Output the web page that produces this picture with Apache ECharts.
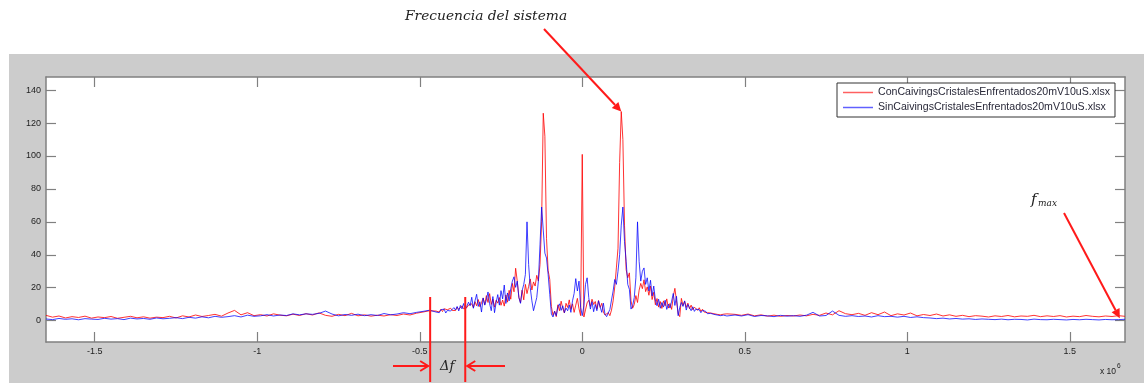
<!DOCTYPE html>
<html><head><meta charset="utf-8">
<script src="https://cdn.jsdelivr.net/npm/echarts@6/dist/echarts.min.js"></script>
<style>html,body{margin:0;padding:0;background:#fff}#c{width:1144px;height:383px}</style>
</head><body><div id="c"></div>
<script>
// ---------- DATA ----------
const seriesNames = ['ConCaivingsCristalesEnfrentados20mV10uS.xlsx', 'SinCaivingsCristalesEnfrentados20mV10uS.xlsx'];
// frequency grids (x 10^6): start, step, count for each segment
const leftGrid = {start: -1.65, step: 0.02, count: 60};
const centerGrid = {start: -0.45, step: 0.005, count: 181};
const rightGrid = {start: 0.47, step: 0.02, count: 61};

const redLeft = [3.2,2.1,2.8,1.6,2.4,1.9,2.7,1.5,2.2,1.8,
 2.5,1.4,2.0,2.6,1.7,2.3,1.5,2.1,1.8,2.6,
 1.6,2.9,2.2,3.4,2.5,3.1,3.8,2.7,4.6,6.2,
 3.5,4.8,3.0,3.6,2.8,4.1,3.3,2.9,3.9,3.1,
 4.2,3.4,4.7,3.2,2.6,3.8,3.0,4.4,2.9,3.5,
 2.7,3.3,2.8,3.6,3.1,4.0,3.4,4.5,5.2,6.0];
const redCenter = [5.8,6.4,5.2,6.9,5.5,7.2,6.0,6.6,5.4,7.5,6.2,
 7.0,6.1,8.2,6.8,7.6,9.0,7.2,8.4,7.9,9.5,
 8.6,10.2,7.9,11.5,9.0,12.8,8.4,10.9,13.6,9.7,
 15.2,11.0,16.4,9.8,13.1,8.2,12.4,10.6,14.0,9.3,
 12.5,8.8,15.6,11.2,18.4,13.0,22.6,17.5,31.8,24.0,
 14.2,10.8,18.5,12.6,22.0,16.4,20.8,25.3,18.6,23.5,
 21.0,27.5,24.0,34.0,60.0,126.0,112.0,50.0,30.5,25.0,
 8.5,3.2,5.8,2.4,9.6,6.0,11.8,7.4,4.6,10.5,
 8.0,12.6,6.8,10.2,5.0,9.4,13.5,7.2,3.0,
 101.0,
 2.2,6.5,10.8,12.4,8.6,13.0,9.8,11.6,7.0,
 12.2,8.0,10.5,5.2,3.4,2.6,4.8,3.0,6.4,12.0,
 20.5,32.0,44.0,96.0,127.0,110.0,58.0,31.0,26.0,29.0,
 12.0,7.5,9.8,15.2,11.0,18.5,22.6,19.4,24.8,17.6,20.5,
 15.4,21.0,12.8,17.2,9.6,13.4,8.2,11.6,7.4,12.0,
 9.0,13.2,7.6,10.4,6.8,14.5,19.6,12.0,4.2,2.4,
 13.5,9.2,11.8,8.0,10.6,7.2,9.4,6.6,8.2,7.0,
 6.2,7.8,5.6,6.9,5.2,6.4,4.8,5.9,4.6,5.4,
 4.2,5.0,3.8,4.6,3.5,4.4,3.9,3.2,4.1,3.6];
const redRight = [3.8,3.2,4.0,2.9,3.5,2.7,3.3,2.6,3.1,2.8,
 3.4,2.9,3.8,3.2,4.6,3.5,6.0,4.2,3.6,4.4,
 3.2,4.8,3.6,5.2,3.0,4.1,3.4,4.6,2.9,3.7,
 3.1,4.0,2.8,3.5,2.6,3.2,2.4,3.0,2.7,2.2,
 2.9,2.5,3.1,2.3,2.8,2.6,3.2,2.4,2.9,2.5,
 3.0,2.2,2.7,2.4,3.1,2.6,2.3,2.8,2.5,3.0,2.6];

const blueLeft = [1.0,0.6,1.3,0.8,1.1,0.5,1.2,0.9,0.7,1.4,
 0.9,1.2,0.6,1.5,1.0,1.3,0.8,1.6,1.1,1.4,
 1.8,1.2,2.0,1.5,2.3,1.7,2.6,2.0,2.4,3.0,
 2.2,3.3,2.6,2.9,3.6,2.8,3.4,3.1,4.1,3.5,
 4.1,3.8,4.4,5.8,4.0,2.9,3.7,3.2,3.9,3.0,
 3.6,3.1,4.3,3.5,4.0,4.8,4.2,5.0,5.6,6.3];
const blueCenter = [5.2,6.0,4.8,6.6,5.5,7.0,4.6,6.2,7.4,5.8,6.8,
 7.9,6.4,8.6,5.9,9.2,7.1,10.4,6.8,8.8,11.2,
 9.0,14.2,7.5,12.0,16.0,8.6,11.4,5.2,13.8,9.4,
 12.6,17.4,10.2,6.0,14.6,4.8,11.0,15.8,9.4,18.2,
 13.2,21.6,10.4,16.8,12.0,19.4,24.0,26.6,20.2,24.0,
 14.0,10.5,18.2,22.0,28.0,60.0,34.0,20.0,12.0,6.0,
 5.0,14.0,24.0,46.0,69.0,55.0,41.0,38.0,28.0,16.0,
 4.0,2.2,5.6,3.0,8.4,10.2,6.2,9.0,4.8,7.6,
 6.0,9.5,5.0,12.0,16.5,25.5,18.0,24.0,8.0,
 3.0,
 9.0,22.0,26.0,14.0,7.0,11.5,5.4,9.8,6.0,
 12.0,8.4,5.0,10.6,3.8,2.4,4.6,6.8,12.5,18.0,
 25.0,22.0,30.0,40.0,58.0,69.0,48.0,36.0,22.0,19.0,
 7.0,9.0,14.0,26.0,60.0,36.0,24.0,30.0,32.0,22.0,26.0,
 18.0,24.5,15.0,21.0,12.5,9.0,13.0,7.5,11.0,8.2,
 12.4,6.8,10.0,7.6,11.8,16.5,9.2,14.8,3.0,8.0,
 11.0,8.6,12.0,6.4,9.8,7.8,6.0,8.4,5.6,7.0,
 5.8,6.6,4.8,6.2,5.0,5.6,4.2,5.2,4.4,4.9,
 3.8,4.5,3.4,4.2,3.0,3.9,3.3,4.0,2.8,3.5];
const blueRight = [3.4,2.8,3.6,2.5,3.1,2.9,2.4,3.2,2.7,3.0,
 2.6,3.3,5.0,2.8,3.1,5.8,3.2,2.6,3.0,2.5,
 2.8,2.2,3.0,2.4,2.6,2.1,2.6,1.9,2.3,1.8,
 1.6,1.2,1.5,1.0,1.3,0.9,1.1,0.7,1.0,0.8,
 0.6,0.9,0.5,0.8,0.7,0.4,0.9,0.6,0.5,0.8,
 0.6,0.4,0.7,0.5,0.8,0.6,0.4,0.7,0.5,0.6,0.8];

const xTicks = [-1.5, -1, -0.5, 0, 0.5, 1, 1.5];
const xTickLabels = ['-1.5', '-1', '-0.5', '0', '0.5', '1', '1.5'];
const yTicks = [0, 20, 40, 60, 80, 100, 120, 140];
const xRange = [-1.65, 1.67];
const yRange = [-13, 148];
// annotation anchors (data coords)
const systemFreqPoint = [0.12, 127];
const fmaxPoint = [1.654, 1.5];
const deltaF = [-0.468, -0.36];

// ---------- BUILD ----------
function gridValues(g) {
  const out = [];
  for (let i = 0; i < g.count; i++) out.push(Math.round((g.start + i * g.step) * 100000) / 100000);
  return out;
}
const freqs = [].concat(gridValues(leftGrid), gridValues(centerGrid), gridValues(rightGrid));
function pairs(vals) { return vals.map((v, i) => [freqs[i], v]); }
const redVals = [].concat(redLeft, redCenter, redRight);
const blueVals = [].concat(blueLeft, blueCenter, blueRight);

const axisCol = '#808080';
const lblStyle = {fontSize: 9, color: '#222', fontFamily: 'Liberation Sans, Arial, sans-serif'};

const chart = echarts.init(document.getElementById('c'), null, {renderer: 'canvas'});
const option = {
  animation: false,
  backgroundColor: '#cccccc',
  grid: {left: 46, right: 19, top: 77, bottom: 41, show: true, backgroundColor: '#ffffff', borderWidth: 0},
  legend: {
    orient: 'vertical', left: 837, top: 83,
    backgroundColor: '#ffffff', borderColor: '#333', borderWidth: 1, borderRadius: 0,
    padding: [4, 5, 4, 6], itemWidth: 30, itemHeight: 1.5, itemGap: 4, itemTextGap: 8,
    icon: 'rect',
    textStyle: {fontSize: 10.6, color: '#2a2a3a', fontFamily: 'Liberation Sans, Arial, sans-serif'},
    data: seriesNames
  },
  xAxis: [
    {type: 'value', min: xRange[0], max: xRange[1], position: 'bottom',
     axisLine: {show: true, onZero: false, lineStyle: {color: axisCol, width: 1.5}},
     axisTick: {show: true, inside: true, length: 10, customValues: xTicks, lineStyle: {color: axisCol, width: 1.2}},
     axisLabel: Object.assign({customValues: xTicks, margin: 5, formatter: v => xTickLabels[xTicks.indexOf(v)] ?? String(v)}, lblStyle),
     splitLine: {show: false}},
    {type: 'value', min: xRange[0], max: xRange[1], position: 'top',
     axisLine: {show: true, onZero: false, lineStyle: {color: axisCol, width: 1.5}},
     axisTick: {show: true, inside: true, length: 10, customValues: xTicks, lineStyle: {color: axisCol, width: 1.2}},
     axisLabel: {show: false}, splitLine: {show: false}}
  ],
  yAxis: [
    {type: 'value', min: yRange[0], max: yRange[1], position: 'left',
     axisLine: {show: true, onZero: false, lineStyle: {color: axisCol, width: 1.5}},
     axisTick: {show: true, inside: true, length: 10, customValues: yTicks, lineStyle: {color: axisCol, width: 1.2}},
     axisLabel: Object.assign({customValues: yTicks, margin: 5}, lblStyle),
     splitLine: {show: false}},
    {type: 'value', min: yRange[0], max: yRange[1], position: 'right',
     axisLine: {show: true, onZero: false, lineStyle: {color: axisCol, width: 1.5}},
     axisTick: {show: true, inside: true, length: 10, customValues: yTicks, lineStyle: {color: axisCol, width: 1.2}},
     axisLabel: {show: false}, splitLine: {show: false}}
  ],
  series: [
    {name: seriesNames[0], type: 'line', data: pairs(redVals), showSymbol: false, symbol: 'none',
     lineStyle: {color: '#ff0000', width: 1, opacity: 0.8}, itemStyle: {color: '#ff6060'}, z: 3},
    {name: seriesNames[1], type: 'line', data: pairs(blueVals), showSymbol: false, symbol: 'none',
     lineStyle: {color: '#0000ff', width: 1, opacity: 0.75}, itemStyle: {color: '#6060ff'}, z: 4}
  ]
};
chart.setOption(option);

// ---------- ANNOTATIONS ----------
const RED = '#ff1a1a';
function arrow(x1, y1, x2, y2, head, halfW, filled, w) {
  const a = Math.atan2(y2 - y1, x2 - x1);
  const bx = x2 - head * Math.cos(a), by = y2 - head * Math.sin(a);
  const px = -Math.sin(a) * halfW, py = Math.cos(a) * halfW;
  const els = [{type: 'line', shape: {x1, y1, x2: filled ? bx : x2, y2: filled ? by : y2}, style: {stroke: RED, lineWidth: w}, z: 100}];
  if (filled) {
    els.push({type: 'polygon', shape: {points: [[x2, y2], [bx + px, by + py], [bx - px, by - py]]}, style: {fill: RED}, z: 100});
  } else {
    els.push({type: 'polyline', shape: {points: [[bx + px, by + py], [x2, y2], [bx - px, by - py]]}, style: {stroke: RED, lineWidth: w, fill: null}, z: 100});
  }
  return els;
}
const sysTip = chart.convertToPixel({gridIndex: 0}, systemFreqPoint);
const fmaxTip = chart.convertToPixel({gridIndex: 0}, fmaxPoint);
const df1 = chart.convertToPixel({gridIndex: 0}, [deltaF[0], 0])[0];
const df2 = chart.convertToPixel({gridIndex: 0}, [deltaF[1], 0])[0];
const serif = 'DejaVu Serif, Liberation Serif, serif';
let g = [
  {type: 'rect', shape: {x: 0, y: 0, width: 1144, height: 54}, style: {fill: '#ffffff'}, z: -10, silent: true},
  {type: 'rect', shape: {x: 0, y: 0, width: 9, height: 383}, style: {fill: '#ffffff'}, z: -10, silent: true},
  {type: 'text', x: 405, y: 16, style: {text: 'Frecuencia del sistema', fontSize: 13.8, fontStyle: 'italic', fontFamily: serif, fill: '#222', textVerticalAlign: 'middle'}, z: 100},
  {type: 'text', x: 1031, y: 200, style: {text: 'f', fontSize: 15, fontStyle: 'italic', fontFamily: serif, fill: '#222', textVerticalAlign: 'middle'}, z: 100},
  {type: 'text', x: 1038, y: 204, style: {text: 'max', fontSize: 9, fontStyle: 'italic', fontFamily: serif, fill: '#222', textVerticalAlign: 'middle'}, z: 100},
  {type: 'text', x: 440, y: 367, style: {text: 'Δf', fontSize: 13, fontStyle: 'italic', fontFamily: serif, fill: '#222', textVerticalAlign: 'middle'}, z: 100},
  {type: 'text', x: 1100, y: 372, style: {text: 'x 10', fontSize: 8.5, fontFamily: 'Liberation Sans, Arial, sans-serif', fill: '#222', textVerticalAlign: 'middle'}, z: 100},
  {type: 'text', x: 1117, y: 366, style: {text: '6', fontSize: 6.5, fontFamily: 'Liberation Sans, Arial, sans-serif', fill: '#222', textVerticalAlign: 'middle'}, z: 100},
  {type: 'line', shape: {x1: df1, y1: 297, x2: df1, y2: 382}, style: {stroke: RED, lineWidth: 2}, z: 100},
  {type: 'line', shape: {x1: df2, y1: 297, x2: df2, y2: 382}, style: {stroke: RED, lineWidth: 2}, z: 100}
];
g = g.concat(arrow(544, 29, sysTip[0], sysTip[1], 9, 4.5, true, 2));
g = g.concat(arrow(1064, 213, fmaxTip[0], fmaxTip[1], 9, 4.5, true, 2));
g = g.concat(arrow(393, 366, df1 - 2, 366, 8, 5, false, 2));
g = g.concat(arrow(505, 366, df2 + 2, 366, 8, 5, false, 2));
chart.setOption({graphic: g});
</script>
</body></html>
